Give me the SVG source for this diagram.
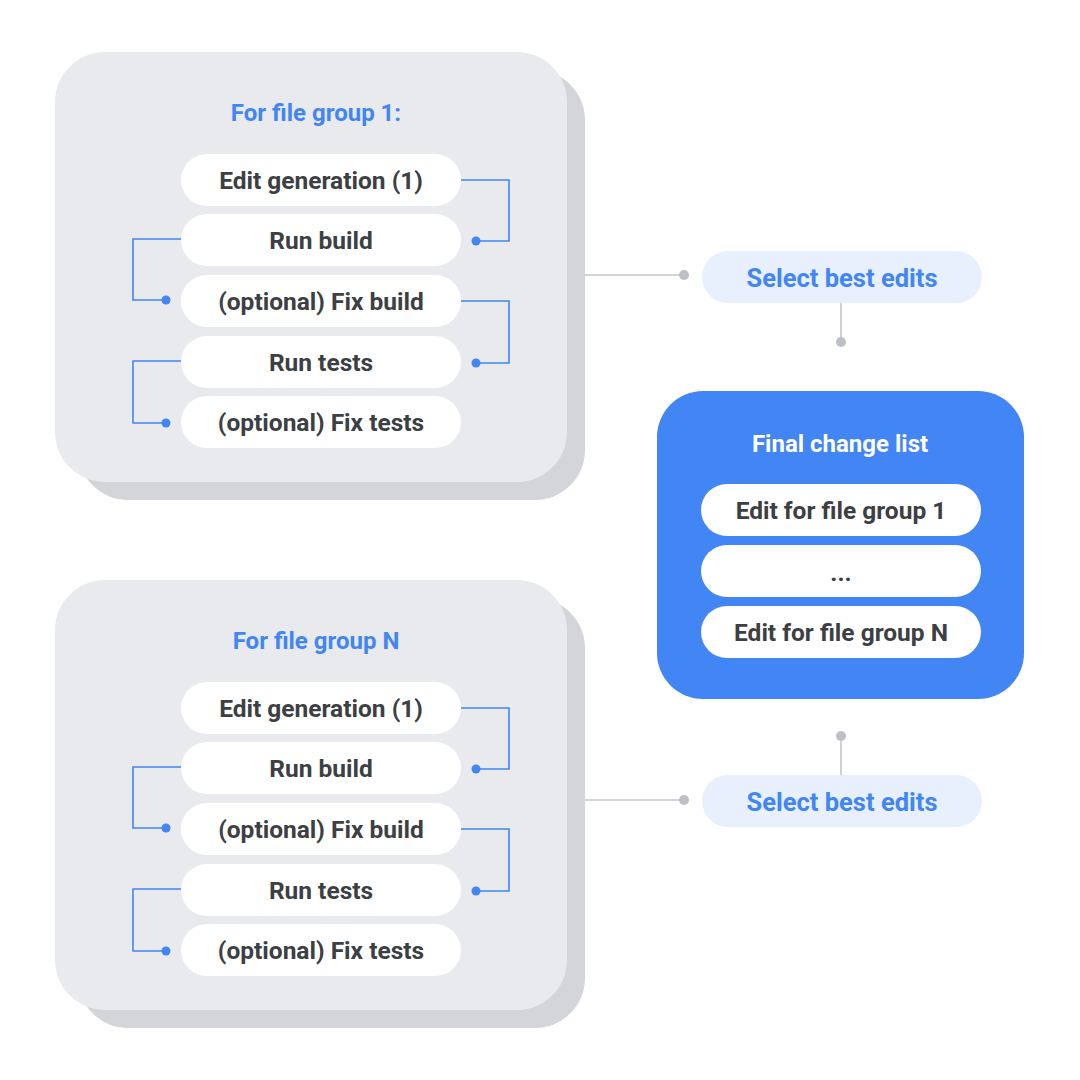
<svg xmlns="http://www.w3.org/2000/svg" width="1080" height="1080" viewBox="0 0 1080 1080">
<defs>
<style>
.back{fill:#d3d5d9}
.card{fill:#e8eaed}
.pill{fill:#ffffff}
.t{font-family:Roboto,"Liberation Sans",sans-serif;font-size:24.5px;font-weight:700;fill:#3c4043;text-anchor:middle;dominant-baseline:central}
.h{font-family:Roboto,"Liberation Sans",sans-serif;font-size:24px;font-weight:700;fill:#4285f4;text-anchor:middle;dominant-baseline:central}
.s{font-family:Roboto,"Liberation Sans",sans-serif;font-size:25.5px;font-weight:700;fill:#4285f4;text-anchor:middle;dominant-baseline:central}
.hw{font-family:Roboto,"Liberation Sans",sans-serif;font-size:24px;font-weight:700;fill:#ffffff;text-anchor:middle;dominant-baseline:central}
.bl{fill:none;stroke:#4285f4;stroke-width:1.6}
.bd{fill:#4285f4}
.gl{fill:none;stroke:#c4c6ca;stroke-width:1.6}
.gd{fill:#bdc1c6}
.sel{fill:#e8f0fe}
</style>
</defs>
<rect width="1080" height="1080" fill="#ffffff"/>

<g id="group1">
<rect class="back" x="78" y="70" width="507" height="430" rx="50"/>
<rect class="card" x="55" y="52" width="512" height="430" rx="50"/>
<text class="h" x="316" y="113">For file group 1:</text>
</g>
<g id="g1-edit"><rect class="pill" x="181" y="154" width="280" height="52" rx="26"/><text class="t" x="321" y="180">Edit generation (1)</text></g>
<g id="g1-runbuild"><rect class="pill" x="181" y="214" width="280" height="52" rx="26"/><text class="t" x="321" y="240">Run build</text></g>
<g id="g1-fixbuild"><rect class="pill" x="181" y="275" width="280" height="52" rx="26"/><text class="t" x="321" y="301">(optional) Fix build</text></g>
<g id="g1-runtests"><rect class="pill" x="181" y="336" width="280" height="52" rx="26"/><text class="t" x="321" y="362">Run tests</text></g>
<g id="g1-fixtests"><rect class="pill" x="181" y="396" width="280" height="52" rx="26"/><text class="t" x="321" y="422">(optional) Fix tests</text></g>

<g id="groupN">
<rect class="back" x="78" y="598" width="507" height="430" rx="50"/>
<rect class="card" x="55" y="580" width="512" height="430" rx="50"/>
<text class="h" x="316" y="641">For file group N</text>
</g>
<g id="gN-edit"><rect class="pill" x="181" y="682" width="280" height="52" rx="26"/><text class="t" x="321" y="708">Edit generation (1)</text></g>
<g id="gN-runbuild"><rect class="pill" x="181" y="742" width="280" height="52" rx="26"/><text class="t" x="321" y="768">Run build</text></g>
<g id="gN-fixbuild"><rect class="pill" x="181" y="803" width="280" height="52" rx="26"/><text class="t" x="321" y="829">(optional) Fix build</text></g>
<g id="gN-runtests"><rect class="pill" x="181" y="864" width="280" height="52" rx="26"/><text class="t" x="321" y="890">Run tests</text></g>
<g id="gN-fixtests"><rect class="pill" x="181" y="924" width="280" height="52" rx="26"/><text class="t" x="321" y="950">(optional) Fix tests</text></g>

<g id="select1"><rect class="sel" x="702" y="251" width="280" height="52" rx="26"/><text class="s" x="842" y="278">Select best edits</text></g>
<g id="select2"><rect class="sel" x="702" y="775" width="280" height="52" rx="26"/><text class="s" x="842" y="802">Select best edits</text></g>

<g id="final">
<rect x="657" y="391" width="367" height="308" rx="46" fill="#4285f4"/>
<text class="hw" x="840" y="444">Final change list</text>
<rect class="pill" x="701" y="484" width="280" height="52" rx="26"/><text class="t" x="841" y="510">Edit for file group 1</text>
<rect class="pill" x="701" y="545" width="280" height="52" rx="26"/><text class="t" x="841" y="572">...</text>
<rect class="pill" x="701" y="606" width="280" height="52" rx="26"/><text class="t" x="841" y="632">Edit for file group N</text>
</g>

<g id="connectors">
<polyline class="bl" points="461,180 509,180 509,241 476,241"/><circle class="bd" cx="476" cy="241" r="4.5"/>
<polyline class="bl" points="181,239 133,239 133,300 166,300"/><circle class="bd" cx="166" cy="300" r="4.5"/>
<polyline class="bl" points="461,301 509,301 509,363 476,363"/><circle class="bd" cx="476" cy="363" r="4.5"/>
<polyline class="bl" points="181,361 133,361 133,423 166,423"/><circle class="bd" cx="166" cy="423" r="4.5"/>

<polyline class="bl" points="461,708 509,708 509,769 476,769"/><circle class="bd" cx="476" cy="769" r="4.5"/>
<polyline class="bl" points="181,767 133,767 133,828 166,828"/><circle class="bd" cx="166" cy="828" r="4.5"/>
<polyline class="bl" points="461,829 509,829 509,891 476,891"/><circle class="bd" cx="476" cy="891" r="4.5"/>
<polyline class="bl" points="181,889 133,889 133,951 166,951"/><circle class="bd" cx="166" cy="951" r="4.5"/>

<line class="gl" x1="585" y1="275" x2="684" y2="275"/><circle class="gd" cx="684" cy="275" r="5"/>
<line class="gl" x1="841" y1="303" x2="841" y2="342"/><circle class="gd" cx="841" cy="342" r="5"/>
<line class="gl" x1="585" y1="800" x2="684" y2="800"/><circle class="gd" cx="684" cy="800" r="5"/>
<line class="gl" x1="841" y1="775" x2="841" y2="736"/><circle class="gd" cx="841" cy="736" r="5"/>
</g>
</svg>
